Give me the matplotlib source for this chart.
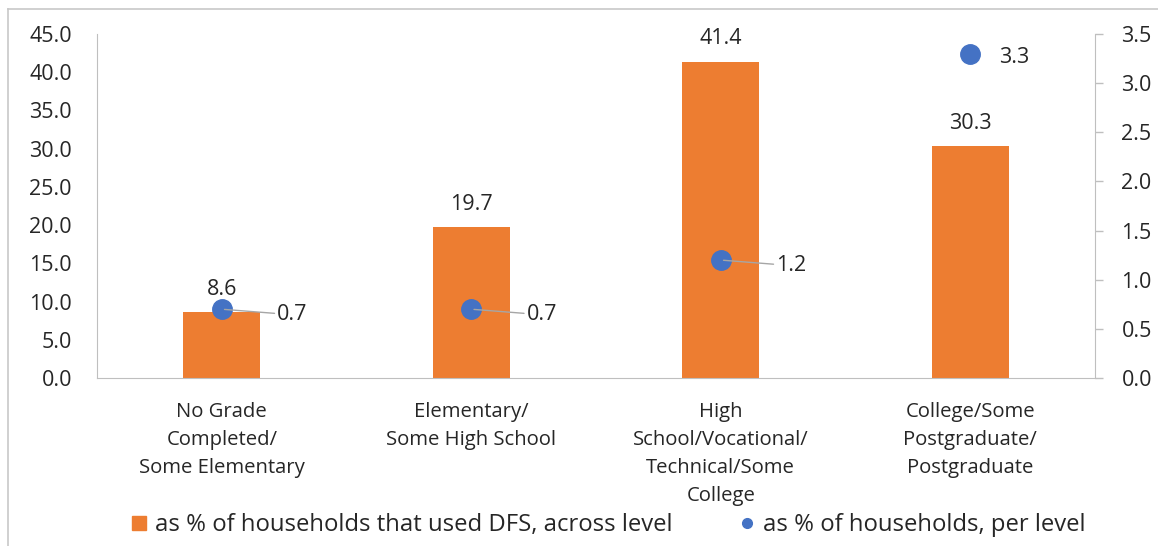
import matplotlib.pyplot as plt
from matplotlib.lines import Line2D

plt.rcParams['font.family'] = ['Open Sans', 'DejaVu Sans']

# education levels and survey shares
levels = ["No Grade\nCompleted/\nSome Elementary",
          "Elementary/\nSome High School",
          "High\nSchool/Vocational/\nTechnical/Some\nCollege",
          "College/Some\nPostgraduate/\nPostgraduate"]
dfs_share = [8.6, 19.7, 41.4, 30.3]     # % of households that used DFS, across level
level_share = [0.7, 0.7, 1.2, 3.3]      # % of households, per level

orange = "#ED7D31"
blue = "#4472C4"
grey = "#BFBFBF"
text_col = "#262626"

fig = plt.figure(figsize=(11.58, 5.46), dpi=100)
ax = fig.add_axes([97 / 1158, 1 - 378 / 546, 998 / 1158, 344 / 546])
ax2 = ax.twinx()

x = list(range(len(levels)))
ax.bar(x, dfs_share, width=0.31, color=orange, zorder=2)
for xi, v in zip(x, dfs_share):
    ax.annotate(f"{v:.1f}", (xi, v), xytext=(0, 9), textcoords="offset points",
                ha="center", va="bottom", fontsize=15.5, color=text_col)

ax.set_xlim(-0.5, 3.5)
ax.set_ylim(0, 45)
ax.set_yticks([i * 5 for i in range(10)])
ax.set_yticklabels([f"{i * 5:.1f}" for i in range(10)])
ax.set_xticks(x)
ax.set_xticklabels(levels, fontsize=14.6, color=text_col, linespacing=1.55)
ax.tick_params(axis="y", length=0, pad=18, labelsize=15.5, labelcolor=text_col)
ax.tick_params(axis="x", length=0, pad=17)
for side in ["top", "right"]:
    ax.spines[side].set_visible(False)
ax.spines["left"].set_color(grey)
ax.spines["bottom"].set_color(grey)

ax2.plot(x, level_share, "o", color=blue, markersize=14, zorder=3)
for i, (xi, v) in enumerate(zip(x, level_share)):
    if i < 3:
        ax2.annotate(f"{v:.1f}", (xi, v), xytext=(40, -4), textcoords="offset points",
                     ha="left", va="center", fontsize=15.5, color=text_col,
                     arrowprops=dict(arrowstyle="-", color="#A6A6A6", lw=1,
                                     shrinkA=0, shrinkB=2))
    else:
        ax2.annotate(f"{v:.1f}", (xi, v), xytext=(21, -3), textcoords="offset points",
                     ha="left", va="center", fontsize=15.5, color=text_col)
ax2.set_ylim(0, 3.5)
ax2.set_yticks([i * 0.5 for i in range(8)])
ax2.set_yticklabels([f"{i * 0.5:.1f}" for i in range(8)])
ax2.tick_params(axis="y", direction="out", length=6, width=1, color=grey,
                labelsize=15.5, labelcolor=text_col, pad=13)
for side in ["top", "left", "bottom"]:
    ax2.spines[side].set_visible(False)
ax2.spines["right"].set_color(grey)

handles = [Line2D([], [], marker="s", linestyle="none", color=orange, markersize=10),
           Line2D([], [], marker="o", linestyle="none", color=blue, markersize=7)]
fig.legend(handles, ["as % of households that used DFS, across level",
                     "as % of households, per level"],
           loc="center", bbox_to_anchor=(0.523, 1 - 525 / 546), ncol=2, frameon=False,
           fontsize=17.2, handletextpad=0.1, handlelength=1.1, columnspacing=2.6,
           labelcolor=text_col)

# chart frame edges
fig.add_artist(Line2D([8 / 1158, 1], [1 - 9 / 546, 1 - 9 / 546], color="#C8C8C8", lw=1.2))
fig.add_artist(Line2D([8 / 1158, 8 / 1158], [0, 1 - 9 / 546], color="#C8C8C8", lw=1.2))

fig.savefig("out.png", dpi=100)
